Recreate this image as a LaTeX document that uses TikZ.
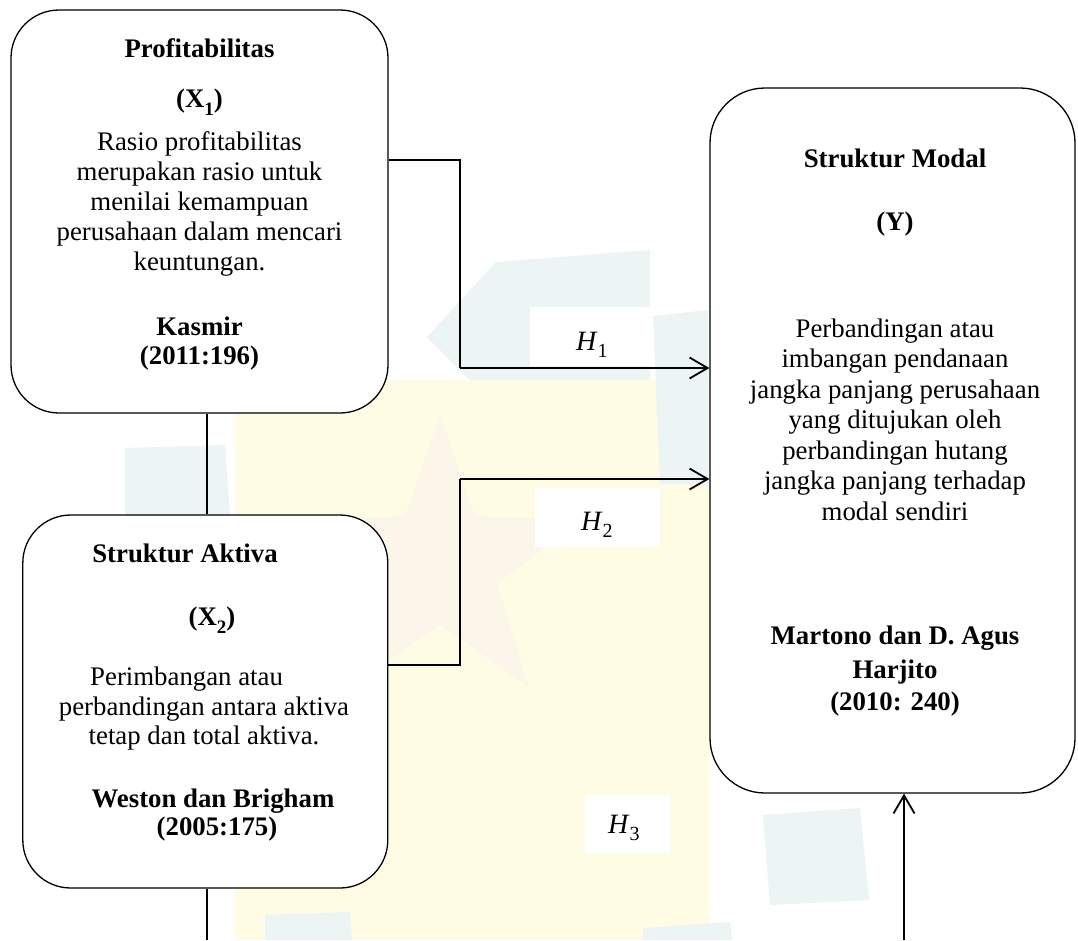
\documentclass[tikz,border=0pt]{standalone}
\usepackage{fontspec}
\setmainfont{Liberation Serif}
\usetikzlibrary{arrows.meta}
\definecolor{wmyellow}{RGB}{255,252,230}
\definecolor{wmcyan}{RGB}{236,244,244}
\definecolor{wmstar}{RGB}{251,245,234}
\tikzset{
  card/.style={draw=black, fill=white, line width=1.3pt, inner sep=0pt},
  txt/.style={anchor=mid, inner sep=0pt, font=\fontsize{26.8}{30}\selectfont},
  btxt/.style={anchor=mid, inner sep=0pt, font=\fontsize{26.8}{30}\selectfont\bfseries},
  conn/.style={line width=1.8pt},
  arr/.style={line width=1.8pt, -{Straight Barb[length=18pt,width=21pt]}},
  hyp/.style={anchor=base west, inner sep=0pt, font=\fontsize{28}{30}\selectfont},
}
\begin{document}
\begin{tikzpicture}[x=1pt,y=-1pt]
\useasboundingbox (0,0) rectangle (1078,940);
\fill[white] (0,0) rectangle (1078,940);
% faint watermark
\fill[wmyellow] (235,380) rectangle (710,940);
\fill[wmcyan] (427,337) -- (496,262) -- (650,250) -- (650,380) -- (470,380) -- cycle;
\fill[wmcyan] (653,316) -- (708,310) -- (708,484) -- (660,484) -- cycle;
\fill[wmcyan] (125,448) -- (225,445) -- (230,515) -- (125,515) -- cycle;
\fill[wmcyan] (763,815) -- (860,808) -- (869,900) -- (770,905) -- cycle;
\fill[wmcyan] (643,928) -- (730,922) -- (732,940) -- (643,940) -- cycle;
\fill[wmcyan] (265,915) -- (350,912) -- (352,940) -- (265,940) -- cycle;
\fill[wmstar] (440,415) -- (475.3,516.5) -- (582.7,518.6) -- (497.1,583.5) -- (528.2,686.4) -- (440,625) -- (351.8,686.4) -- (382.9,583.5) -- (297.3,518.6) -- (404.7,516.5) -- cycle;
\fill[white] (530,307) rectangle (653,366);
\fill[white] (535,488) rectangle (660,547);
\fill[white] (585,795) rectangle (670,853);

% boxes
\node[card, rounded corners=48pt, minimum width=377pt, minimum height=403pt] (p1) at (199.5,211.5) {};
\node[card, rounded corners=48pt, minimum width=365pt, minimum height=373pt] (p2) at (205.3,701.5) {};
\node[card, rounded corners=55pt, minimum width=365pt, minimum height=705pt] (p3) at (892.5,440.5) {};

% box 1 text
\node[btxt] (p1t) at (199.5,55) {Profitabilitas};
\node[btxt] (p1x) at (199.5,105) {(X\raisebox{-0.3em}{\fontsize{19}{19}\selectfont 1})};
\foreach \t [count=\i] in {Rasio profitabilitas, merupakan rasio untuk, menilai kemampuan, perusahaan dalam mencari, keuntungan.}
  \node[txt] (p1b\i) at (199.5,118+30*\i) {\t};
\node[btxt] (p1a) at (199.5,333) {Kasmir};
\node[btxt] (p1y) at (199.5,362) {(2011:196)};

% box 2 text
\node[btxt] (p2t) at (185,560) {Struktur Aktiva};
\node[btxt] (p2x) at (212,623) {(X\raisebox{-0.3em}{\fontsize{19}{19}\selectfont 2})};
\node[txt, anchor=mid west] (p2b1) at (90,683) {Perimbangan atau};
\node[txt] (p2b2) at (204,713) {perbandingan antara aktiva};
\node[txt] (p2b3) at (204,742) {tetap dan total aktiva.};
\node[btxt] (p2a) at (213,805) {Weston dan Brigham};
\node[btxt] (p2y) at (217,833) {(2005:175)};

% box 3 text
\node[btxt] (p3t) at (895,165) {Struktur Modal};
\node[btxt] (p3x) at (895,228) {(Y)};
\foreach \t [count=\i] in {Perbandingan atau, imbangan pendanaan, jangka panjang perusahaan, yang ditujukan oleh, perbandingan hutang, jangka panjang terhadap, modal sendiri}
  \node[txt] (p3b\i) at (895,304.5+30.5*\i) {\t};
\node[btxt] (p3a1) at (895,642) {Martono dan D. Agus};
\node[btxt] (p3a2) at (895,676) {Harjito};
\node[btxt] (p3y) at (895,708) {(2010: 240)};

% connectors
\coordinate (j1) at (460,160);
\coordinate (k1) at (460,368);
\coordinate (j2) at (460,665);
\coordinate (k2) at (460,479);
\coordinate (v1) at (207,0);
\coordinate (b1) at (207,940);
\coordinate (b3) at (904,940);
\draw[conn] (p1.east |- j1) -- (j1) -- (k1);
\draw[arr] (k1) -- (k1 -| p3.west);
\draw[conn] (p2.east |- j2) -- (j2) -- (k2);
\draw[arr] (k2) -- (k2 -| p3.west);
\draw[conn] (p1.south -| v1) -- (p2.north -| v1);
\draw[conn] (p2.south -| b1) -- (b1);
\draw[arr] (b3) -- (b3 |- p3.south);

% hypothesis labels
\node[hyp] (h1) at (576,350) {\textit{H}\raisebox{-0.28em}{\fontsize{20}{20}\selectfont 1}};
\node[hyp] (h2) at (581,530) {\textit{H}\raisebox{-0.28em}{\fontsize{20}{20}\selectfont 2}};
\node[hyp] (h3) at (608,833) {\textit{H}\raisebox{-0.28em}{\fontsize{20}{20}\selectfont 3}};
\end{tikzpicture}
\end{document}
